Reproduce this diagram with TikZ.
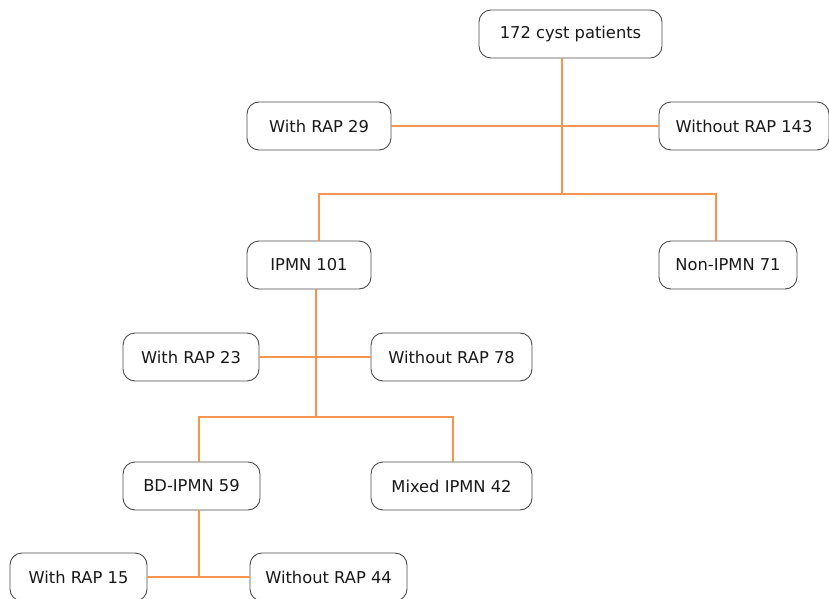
\documentclass[tikz,border=0pt]{standalone}
\usepackage{fontspec}
\setmainfont{DejaVu Sans}
\begin{document}
\begin{tikzpicture}[x=1pt,y=-1pt,
  box/.style={draw=black!70, line width=0.9pt, rounded corners=12pt, fill=white,
    minimum height=48pt, inner sep=0pt, font=\fontsize{16.3}{18}\selectfont, text=black!90},
  link/.style={draw={rgb,255:red,244;green,150;blue,80}, line width=1.1pt}]
\useasboundingbox (0,0) rectangle (829,599);
% nodes
\node[box, minimum width=183pt] (top) at (570.5,34) {172 cyst patients};
\node[box, minimum width=144pt] (w29) at (319,126) {With RAP 29};
\node[box, minimum width=170pt] (wo143) at (744,126) {Without RAP 143};
\node[box, minimum width=124pt] (ipmn) at (309,265) {IPMN 101};
\node[box, minimum width=138pt] (non) at (728,265) {Non-IPMN 71};
\node[box, minimum width=136pt] (w23) at (191,357) {With RAP 23};
\node[box, minimum width=161pt] (wo78) at (451.5,357) {Without RAP 78};
\node[box, minimum width=137pt] (bd) at (191.5,486) {BD-IPMN 59};
\node[box, minimum width=161pt] (mix) at (451.5,486) {Mixed IPMN 42};
\node[box, minimum width=137pt] (w15) at (78.5,577) {With RAP 15};
\node[box, minimum width=157pt] (wo44) at (328.5,577) {Without RAP 44};
% junctions
\coordinate (j1) at (562,194);
\coordinate (j2) at (316,417);
\coordinate (j3) at (199,576);
% connectors
\draw[link] (top.south -| j1) -- (j1);
\draw[link] (w29.east) -- (wo143.west);
\draw[link] (j1) -- (j1 -| w29) -- (ipmn.north -| w29);
\draw[link] (j1) -- (716,194) -- (non.north -| 716,0);
\draw[link] (ipmn.south -| j2) -- (j2);
\draw[link] (w23.east) -- (wo78.west);
\draw[link] (j2) -- (j2 -| j3) -- (bd.north -| j3);
\draw[link] (j2) -- (453,417) -- (mix.north -| 453,0);
\draw[link] (bd.south -| j3) -- (j3);
\draw[link] (w15.east) -- (wo44.west);
\end{tikzpicture}
\end{document}
